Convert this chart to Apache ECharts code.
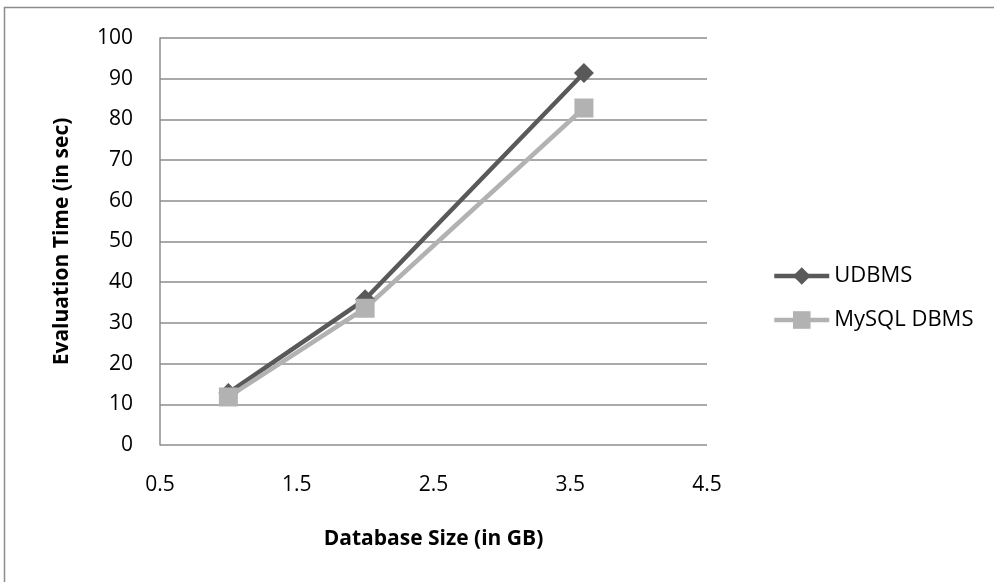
<!DOCTYPE html>
<html>
<head>
<meta charset="utf-8">
<script src="https://cdn.jsdelivr.net/npm/echarts@6/dist/echarts.min.js"></script>
<style>
	html, body { margin: 0; padding: 0; background: #fff; }
	#chart-box { width: 994px; height: 582px; }
</style>
</head>
<body>
<div id="chart-box"></div>
<script>
var sizes = [1.0, 2.0, 3.6];
var udbms = [12.8, 35.8, 91.4];
var mysql = [11.8, 33.6, 82.8];
var xTicks = [0.5, 1.5, 2.5, 3.5, 4.5];

var font = "'Open Sans', 'Liberation Sans', sans-serif";

var chart = echarts.init(document.getElementById("chart-box"));
var option = {
	animation: false,
	backgroundColor: "#fff",
	textStyle: { fontFamily: font },
	graphic: [
		{
			type: "rect",
			shape: { x: 4.5, y: 7.5, width: 1100, height: 700 },
			style: { fill: "none", stroke: "#8c8c8c", lineWidth: 1.5 },
			silent: true
		}
	],
	grid: {
		left: 160,
		right: 287,
		top: 38,
		bottom: 137
	},
	legend: {
		orient: "vertical",
		left: 767,
		top: 260,
		itemWidth: 55,
		itemHeight: 22,
		itemGap: 22,
		lineStyle: { width: 4.5 },
		textStyle: { fontSize: 22, color: "#000", fontFamily: font },
		data: ["UDBMS", "MySQL DBMS"]
	},
	xAxis: {
		type: "value",
		min: 0.5,
		max: 4.5,
		interval: 0.5,
		name: "Database Size (in GB)",
		nameLocation: "middle",
		nameGap: 84,
		nameTextStyle: { fontSize: 21, fontWeight: "bold", color: "#000" },
		axisLine: { show: false },
		axisTick: { show: false },
		splitLine: { show: false },
		axisLabel: {
			fontSize: 21,
			color: "#000",
			margin: 30,
			formatter: function (v) {
				for (var i = 0; i < xTicks.length; i++) {
					if (Math.abs(xTicks[i] - v) < 1e-6) return xTicks[i].toFixed(1);
				}
				return "";
			}
		}
	},
	yAxis: {
		type: "value",
		min: 0,
		max: 100,
		interval: 10,
		name: "Evaluation Time (in sec)",
		nameLocation: "middle",
		nameGap: 87,
		nameTextStyle: { fontSize: 21, fontWeight: "bold", color: "#000" },
		axisLine: { show: true, lineStyle: { color: "#8c8c8c", width: 1.5 } },
		axisTick: { show: false },
		splitLine: { show: true, lineStyle: { color: "#8c8c8c", width: 1.5 } },
		axisLabel: { fontSize: 21, color: "#000", margin: 27 }
	},
	series: [
		{
			name: "UDBMS",
			type: "line",
			data: sizes.map(function (x, i) { return [x, udbms[i]]; }),
			symbol: "diamond",
			symbolSize: 20,
			lineStyle: { color: "#595959", width: 4.5 },
			itemStyle: { color: "#595959" }
		},
		{
			name: "MySQL DBMS",
			type: "line",
			data: sizes.map(function (x, i) { return [x, mysql[i]]; }),
			symbol: "rect",
			symbolSize: 19,
			lineStyle: { color: "#b2b2b2", width: 4.5 },
			itemStyle: { color: "#b2b2b2" }
		}
	]
};

chart.setOption(option);
</script>
</body>
</html>
